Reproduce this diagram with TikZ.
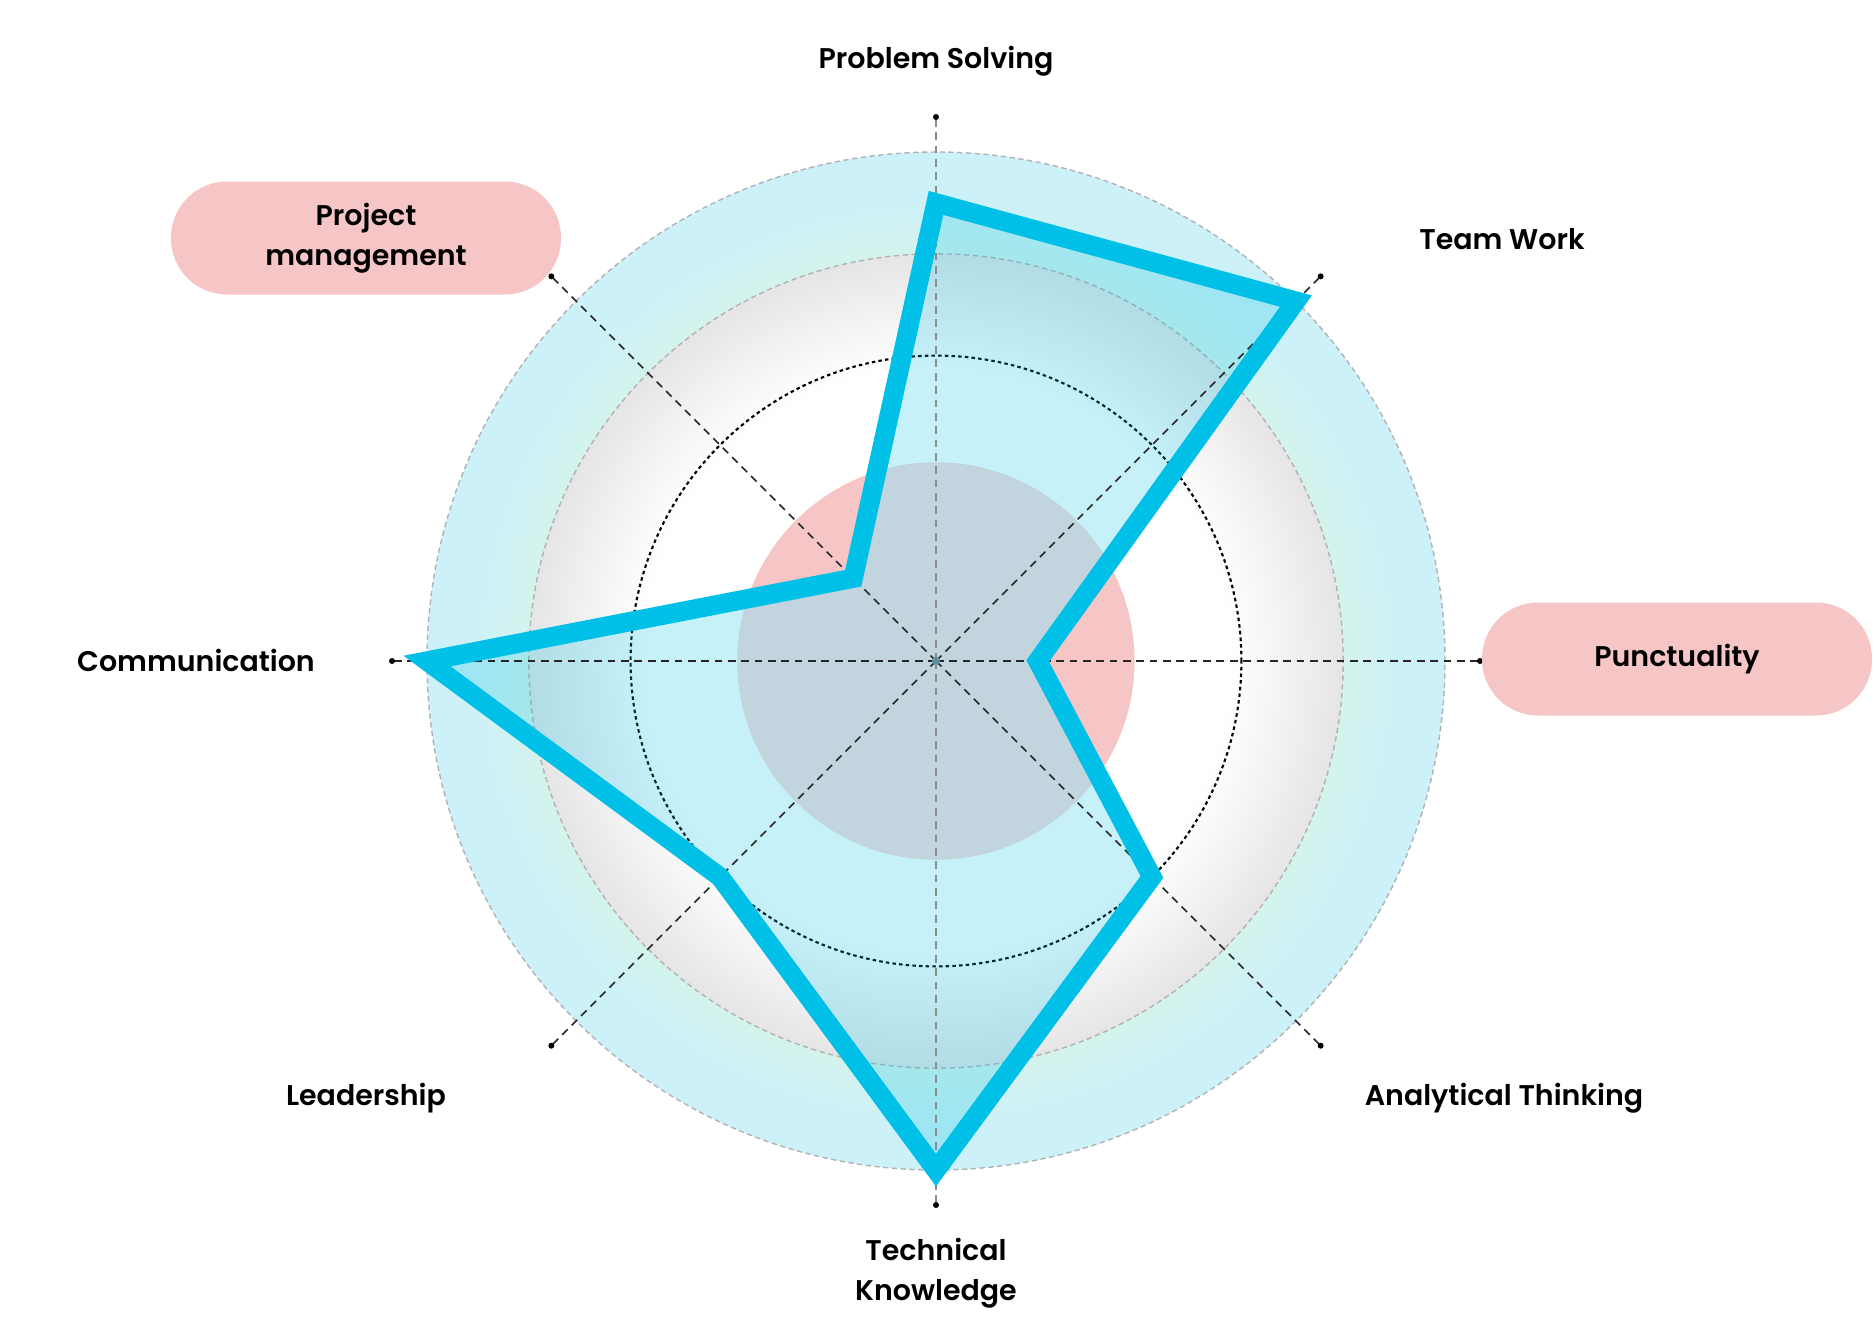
\documentclass[tikz,border=0pt]{standalone}
\usepackage{fontspec}
\setmainfont{Poppins}[BoldFont={Poppins SemiBold}]

\definecolor{ringblue}{HTML}{CCF1F9}
\definecolor{ringmint}{HTML}{D4F3EC}
\definecolor{pillpink}{HTML}{F6C6C6}
\definecolor{linecyan}{HTML}{00C0E8}
\definecolor{overlap}{HTML}{C2D4DE}
\definecolor{hubgray}{HTML}{5F8C9A}

% the path edge sits at 25bp
\pgfdeclareradialshading{outerring}{\pgfpoint{0bp}{0bp}}{color(0bp)=(ringmint); color(20bp)=(ringmint); color(23bp)=(ringblue); color(50bp)=(ringblue)}
\pgfdeclareradialshading{grayring}{\pgfpoint{0bp}{0bp}}{color(0bp)=(white); color(18bp)=(white); color(25bp)=(gray!20); color(50bp)=(gray!20)}

\def\rad{5.09}
\def\axislen{5.44}

\tikzset{
  axisline/.style={dash pattern=on 2.2pt off 1.6pt, line width=0.45pt, black!85},
  tipdot/.style={circle, fill=black, inner sep=0pt, minimum size=0.6mm},
  axislabel/.style={font=\fontsize{8.1}{11.4}\selectfont\bfseries, align=center},
  pill/.style={axislabel, fill=pillpink, rounded corners=5.6mm, minimum width=39mm, minimum height=11.3mm}
}

\begin{document}
\begin{tikzpicture}
  \useasboundingbox (-9.36,-6.63) rectangle (9.38,6.61);
  \coordinate (o) at (0,0);

  % rings
  \shade[shading=outerring] (o) circle (\rad);
  \draw[gray!60, line width=0.4pt, dash pattern=on 1.5pt off 1pt] (o) circle (\rad);
  \shade[shading=grayring] (o) circle (0.8*\rad);
  \draw[gray!60, line width=0.4pt, dash pattern=on 1.5pt off 1pt] (o) circle (0.8*\rad);
  \draw[black, line width=0.6pt, dash pattern=on 1pt off 0.9pt] (o) circle (0.6*\rad);
  \fill[pillpink] (o) circle (0.39*\rad);

  % polygon corners: value along each axis
  \foreach \ang/\val [count=\i] in {90/0.9, 45/1.0, 0/0.2, -45/0.6, -90/1.0, -135/0.6, 180/1.0, 135/0.23}
    \coordinate (v\i) at (\ang:\val*\rad);

  \fill[linecyan, fill opacity=0.22] (v1) -- (v2) -- (v3) -- (v4) -- (v5) -- (v6) -- (v7) -- (v8) -- cycle;
  \begin{scope}
    \clip (v1) -- (v2) -- (v3) -- (v4) -- (v5) -- (v6) -- (v7) -- (v8) -- cycle;
    \fill[overlap] (o) circle (0.39*\rad);
  \end{scope}

  % axes
  \foreach \ang [count=\i] in {90, 45, 0, -45, -90, -135, 180, 135}
    \coordinate (e\i) at (\ang:\axislen);
  \foreach \i in {2,3,4,6,7,8}
    \draw[axisline] (o) -- (e\i);
  \draw[axisline, gray!90, line width=0.7pt] (o) -- (e1);
  \draw[axisline, gray!90, line width=0.7pt] (o) -- (e5);

  \draw[linecyan, line width=5.5pt, line join=miter, miter limit=20] (v1) -- (v2) -- (v3) -- (v4) -- (v5) -- (v6) -- (v7) -- (v8) -- cycle;

  \foreach \i in {1,...,8}
    \node[tipdot] (d\i) at (e\i) {};
  \node[circle, fill=hubgray, inner sep=0pt, minimum size=0.8mm] (hub) at (o) {};

  % labels
  \node[axislabel] (ps) at (0,6.00) {Problem Solving};
  \node[axislabel] (tw) at (5.66,4.22) {Team Work};
  \node[pill] (pun) at (7.41,0.02) {\raisebox{-0.4mm}{Punctuality}};
  \node[axislabel] (at) at (5.68,-4.37) {Analytical Thinking};
  \node[axislabel] (tk) at (0,-6.12) {Technical\\Knowledge};
  \node[axislabel] (ld) at (-5.70,-4.37) {Leadership};
  \node[axislabel] (com) at (-7.40,0.01) {Communication};
  \node[pill] (pm) at (-5.70,4.23) {\raisebox{-0.4mm}{Project}\\\raisebox{-0.4mm}{management}};
\end{tikzpicture}
\end{document}
